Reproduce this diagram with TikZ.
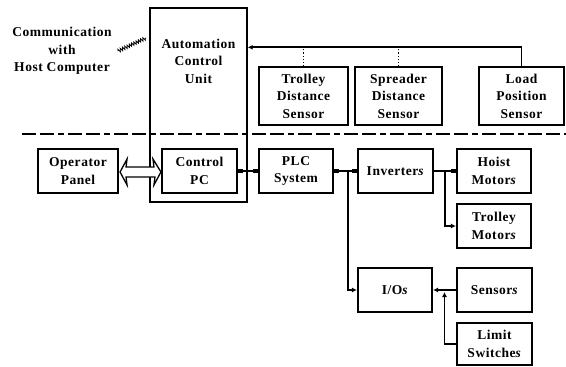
\documentclass[tikz,border=0pt]{standalone}
\usepackage{fontspec}
\setmainfont{Liberation Serif}[LetterSpace=4]
\usetikzlibrary{arrows.meta,calc,decorations.pathmorphing}
\begin{document}
\begin{tikzpicture}[x=1pt,y=-1pt,
  every node/.style={font=\fontsize{13.5}{17.5}\selectfont\bfseries, align=center},
  blk/.style={draw, line width=2.1pt, inner sep=0pt},
  conn/.style={line width=1.5pt},
  tipa/.style={-{Latex[length=5pt,width=5pt]}},
  sq/.style={{Square[length=4.5pt,width=4.5pt]}-{Square[length=4.5pt,width=4.5pt]}}
]
\useasboundingbox (0,0) rectangle (566,367);

% upper level
\node (comm) at (62,51) {Communication\\with\\Host Computer};
\node[draw, line width=1.4pt, minimum width=97pt, minimum height=194pt] (acu) at (198.5,105) {};
\node (acut) at (198.5,61) {Automation\\Control\\Unit};
\node[blk, minimum width=89pt, minimum height=58pt] (tds) at (303.5,96) {Trolley\\Distance\\Sensor};
\node[blk, minimum width=87pt, minimum height=58pt] (sds) at (398.5,96) {Spreader\\Distance\\Sensor};
\node[blk, minimum width=85pt, minimum height=58pt] (lps) at (521.5,96) {Load\\Position\\Sensor};

\coordinate (bus) at ($(acu.north east)+(0,40)$);
\draw[conn, line width=1.8pt, tipa] (lps.north) |- (bus);
\draw[dotted, line width=1.1pt] (tds.north) -- (tds.north |- bus);
\draw[dotted, line width=1.1pt] (sds.north) -- (sds.north |- bus);

% communication squiggle
\coordinate (sqa) at (118,51);
\coordinate (sqb) at (146,38);
\draw[line width=0.8pt, decorate, decoration={zigzag, segment length=2.5pt, amplitude=1.6pt}] (sqa) -- (sqb);

% dashed separator
\coordinate (dl) at (22,134);
\coordinate (dr) at (566,134);
\draw[line width=2pt, dash pattern=on 14pt off 4pt on 14pt off 4pt on 6pt off 4pt] (dl) -- (dr);

% lower level
\node[blk, minimum width=80pt, minimum height=44pt] (op) at (78,171) {Operator\\Panel};
\node[blk, minimum width=75pt, minimum height=44pt] (cpc) at (199.5,171) {Control\\PC};
\node[blk, minimum width=74pt, minimum height=44pt] (plc) at (296,171) {PLC\\System};
\node[blk, minimum width=75pt, minimum height=44pt] (inv) at (395.5,171) {Inverter\textit{s}};
\node[blk, minimum width=74pt, minimum height=44pt] (hm) at (494,171) {Hoist\\Motor\textit{s}};
\node[blk, minimum width=74pt, minimum height=44pt] (tm) at (494,226) {Trolley\\Motor\textit{s}};
\node[blk, minimum width=74pt, minimum height=44pt] (io) at (395,290) {I/O\textit{s}};
\node[blk, minimum width=75pt, minimum height=44pt] (sen) at (494.5,290) {Sensor\textit{s}};
\node[blk, minimum width=75pt, minimum height=42pt] (ls) at (494.5,344) {Limit\\Switche\textit{s}};

% hollow double arrow Operator Panel <-> Control PC
\draw[line width=1.3pt, fill=white]
  ($(op.east)+(1,1)$) -- ++(7,-13) -- ++(-1,8) -- ($(cpc.west)+(-7,-4)$) -- ++(-1,-8) -- ($(cpc.west)+(0,1)$)
  -- ++(-7,13) -- ++(1,-8) -- ($(op.east)+(7,6)$) -- ++(1,8) -- cycle;

% connectors
\draw[conn, sq] (cpc.east) -- (plc.west);
\draw[conn, sq] (plc.east) -- (inv.west);
\coordinate (j1) at ($(plc.east)!0.6!(inv.west)$);
\draw[conn, tipa] (j1) |- (io.west);
\draw[conn, -{Square[length=4.5pt,width=4.5pt]}] (inv.east) -- (hm.west);
\coordinate (j2) at ($(inv.east)!0.5!(hm.west)$);
\draw[conn, tipa] (j2) |- (tm.west);
\draw[conn, tipa] (sen.west) -- (io.east);
\coordinate (j3) at ($(io.east)!0.5!(sen.west)+(0,2)$);
\draw[conn, tipa] (ls.west) -| (j3);
\end{tikzpicture}
\end{document}
